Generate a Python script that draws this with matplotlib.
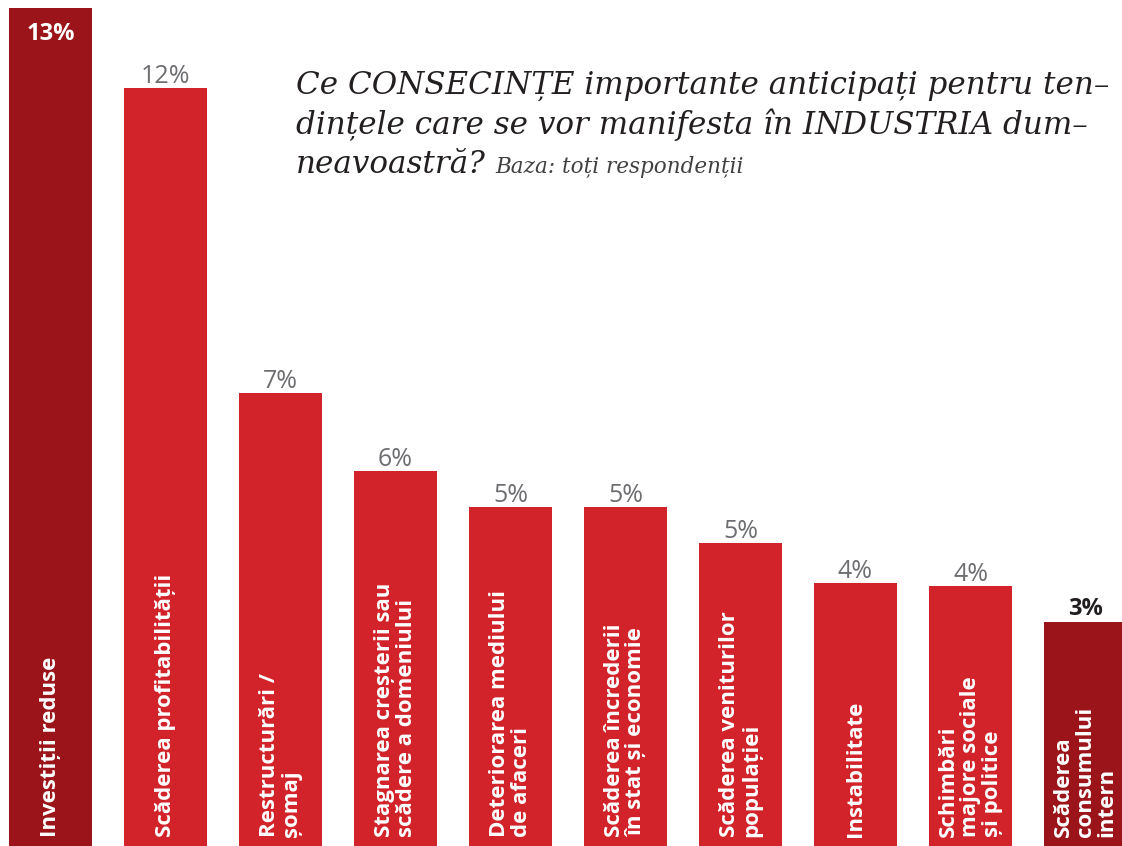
import matplotlib
matplotlib.use("Agg")
import matplotlib.pyplot as plt

# ---- data ----
categories = [
    "Investiții reduse",
    "Scăderea profitabilității",
    "Restructurări /\nșomaj",
    "Stagnarea creșterii sau\nscădere a domeniului",
    "Deteriorarea mediului\nde afaceri",
    "Scăderea încrederii\nîn stat și economie",
    "Scăderea veniturilor\npopulației",
    "Instabilitate",
    "Schimbări\nmajore sociale\nși politice",
    "Scăderea\nconsumului\nintern",
]
values = [13.0, 11.76, 7.03, 5.82, 5.26, 5.26, 4.70, 4.08, 4.03, 3.47]
value_labels = ["13%", "12%", "7%", "6%", "5%", "5%", "5%", "4%", "4%", "3%"]
highlight = [True, False, False, False, False, False, False, False, False, True]

title_lines = [
    "Ce CONSECINȚE importante anticipați pentru ten–",
    "dințele care se vor manifesta în INDUSTRIA dum–",
    "neavoastră?",
]
subtitle = "Baza: toți respondenții"

RED = "#d2232a"
DARK = "#9b1419"
GRAY = "#6d6e71"
INK = "#231f20"

W, H = 1122, 846
fig = plt.figure(figsize=(W / 100, H / 100), dpi=100)
ax = fig.add_axes([0, 0, 1, 1])
ax.set_axis_off()

spacing_px = 115.0
first_center_px = 50.5
ax.set_xlim(-first_center_px / spacing_px, (W - first_center_px) / spacing_px)
ax.set_ylim(0, values[0] * H / 838.0)

xs = list(range(len(values)))
colors = [DARK if h else RED for h in highlight]
ax.bar(xs, values, width=83 / spacing_px, color=colors, linewidth=0)

bar_font = ["Open Sans", "DejaVu Sans"]
for x, v, lab, cat, h in zip(xs, values, value_labels, categories, highlight):
    # category label inside bar
    ax.annotate(cat, xy=(x, 0), xytext=(0, 9), textcoords="offset pixels",
                rotation=90, ha="center", va="bottom", multialignment="left",
                color="white", fontsize=16, fontweight="bold",
                family=bar_font, linespacing=1.04)
    if x == 0:
        ax.annotate(lab, xy=(x, v), xytext=(0, -14), textcoords="offset pixels",
                    ha="center", va="top", color="white", fontsize=17,
                    fontweight="bold", family=bar_font)
    elif h:
        ax.annotate(lab, xy=(x, v), xytext=(0, 7), textcoords="offset pixels",
                    ha="center", va="baseline", color=INK, fontsize=17,
                    fontweight="bold", family=bar_font)
    else:
        ax.annotate(lab, xy=(x, v), xytext=(0, 5), textcoords="offset pixels",
                    ha="center", va="baseline", color=GRAY, fontsize=18,
                    family=bar_font)

# ---- title ----
title_font = ["DejaVu Serif"]
baselines = [94, 134, 173]
tx = 296 / W
last = None
for line, b in zip(title_lines, baselines):
    last = fig.text(tx, 1 - b / H, line, ha="left", va="baseline",
                    fontsize=22.3, style="italic", color=INK,
                    family=title_font)

fig.canvas.draw()
r = fig.canvas.get_renderer()
bb = last.get_window_extent(r)
fig.text((bb.x1 + 9) / W, 1 - 173 / H, subtitle, ha="left", va="baseline",
         fontsize=15.5, style="italic", color="#414042", family=title_font)

fig.savefig("out.png", dpi=100)
